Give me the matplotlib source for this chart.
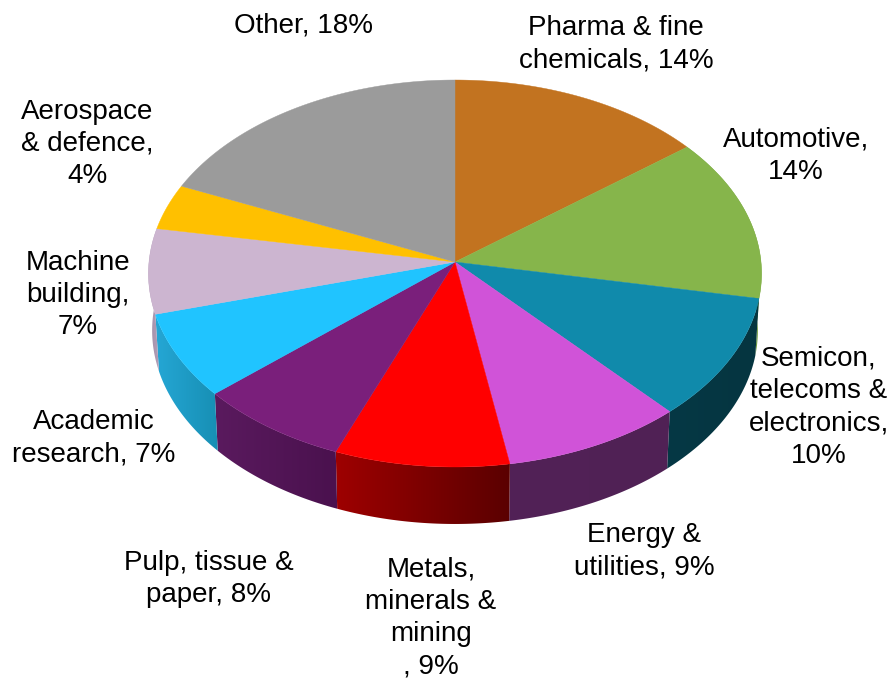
import numpy as np
import matplotlib
matplotlib.use('Agg')
import matplotlib.pyplot as plt
from matplotlib.colors import to_rgb
from matplotlib.patches import Polygon

labels = ['Pharma & fine\nchemicals, 14%', 'Automotive,\n14%', 'Semicon,\ntelecoms &\nelectronics,\n10%',
          'Energy &\nutilities, 9%', 'Metals,\nminerals &\nmining\n, 9%', 'Pulp, tissue &\npaper, 8%',
          'Academic\nresearch, 7%', 'Machine\nbuilding,\n7%', 'Aerospace\n& defence,\n4%', 'Other, 18%']
values = [14.4, 13.6, 10.3, 9.0, 8.7, 7.6, 7.1, 7.1, 3.8, 18.4]

top_colors = ['#C27320', '#86B54B', '#108AAB', '#D053D8', '#FF0000', '#7A1F7B', '#20C4FF', '#CCB5D0', '#FFC000', '#9B9B9B']
# side gradient, left end and right end (only the front slices show)
side_colors = {1: ('#6E9A3A', '#6E9A3A'), 2: ('#063845', '#053540'), 3: ('#522257', '#502155'),
               4: ('#9E0000', '#5A0000'), 5: ('#5A1A5E', '#4A114E'), 6: ('#25A7D5', '#178FB4'),
               7: ('#A08DA5', '#B5A0BA')}
label_pos = [(616, 44), (796, 156), (819, 407), (644, 551), (431, 618), (209, 579), (94, 438), (78, 295), (87, 144), (303, 26)]

# pie geometry in pixels
cx, cy = 455, 262
rx, ry = 306, 192.8
persp = 0.0594
depth = 57


def rim(theta, scale=1.0, shift=0.0):
    # theta clockwise from 12 o'clock, circle seen with a bit of perspective
    d = 1 + persp * np.cos(theta)
    x = cx + scale * rx * np.sin(theta) / d
    y = cy - ry * np.cos(theta) / d + shift
    return np.column_stack([x, y])


fig = plt.figure(figsize=(8.94, 6.8), dpi=100)
ax = fig.add_axes([0, 0, 1, 1])

edges = np.radians(np.cumsum([0] + values) * 3.6)

# sides first, the top covers whatever is left over
for i, (c1, c2) in side_colors.items():
    t = np.linspace(edges[i], edges[i + 1], 80)
    upper = rim(t)
    lower = rim(t, scale=0.988, shift=depth)
    pts = np.vstack([upper, lower[::-1]])
    x0, x1 = pts[:, 0].min(), pts[:, 0].max()
    y0, y1 = pts[:, 1].min(), pts[:, 1].max()
    grad = np.linspace(to_rgb(c1), to_rgb(c2), 256).reshape(1, 256, 3)
    # right-hand slices run right to left as theta grows, x is what counts here
    im = ax.imshow(grad, extent=[x0, x1, y1, y0], aspect='auto', interpolation='bilinear', zorder=1)
    poly = Polygon(pts, closed=True, fc='none', ec='none', transform=ax.transData)
    ax.add_patch(poly)
    im.set_clip_path(poly)

for i, col in enumerate(top_colors):
    t = np.linspace(edges[i], edges[i + 1], 120)
    pts = np.vstack([[cx, cy], rim(t)])
    ax.add_patch(Polygon(pts, closed=True, fc=col, ec=col, lw=0.3, zorder=2))

for txt, (x, y) in zip(labels, label_pos):
    ax.text(x, y, txt, ha='center', va='center', fontsize=20, family='Liberation Sans', color='black',
            linespacing=1.32, zorder=3)

ax.set_xlim(0, 894)
ax.set_ylim(680, 0)
ax.axis('off')
fig.savefig('out.png', dpi=100)
